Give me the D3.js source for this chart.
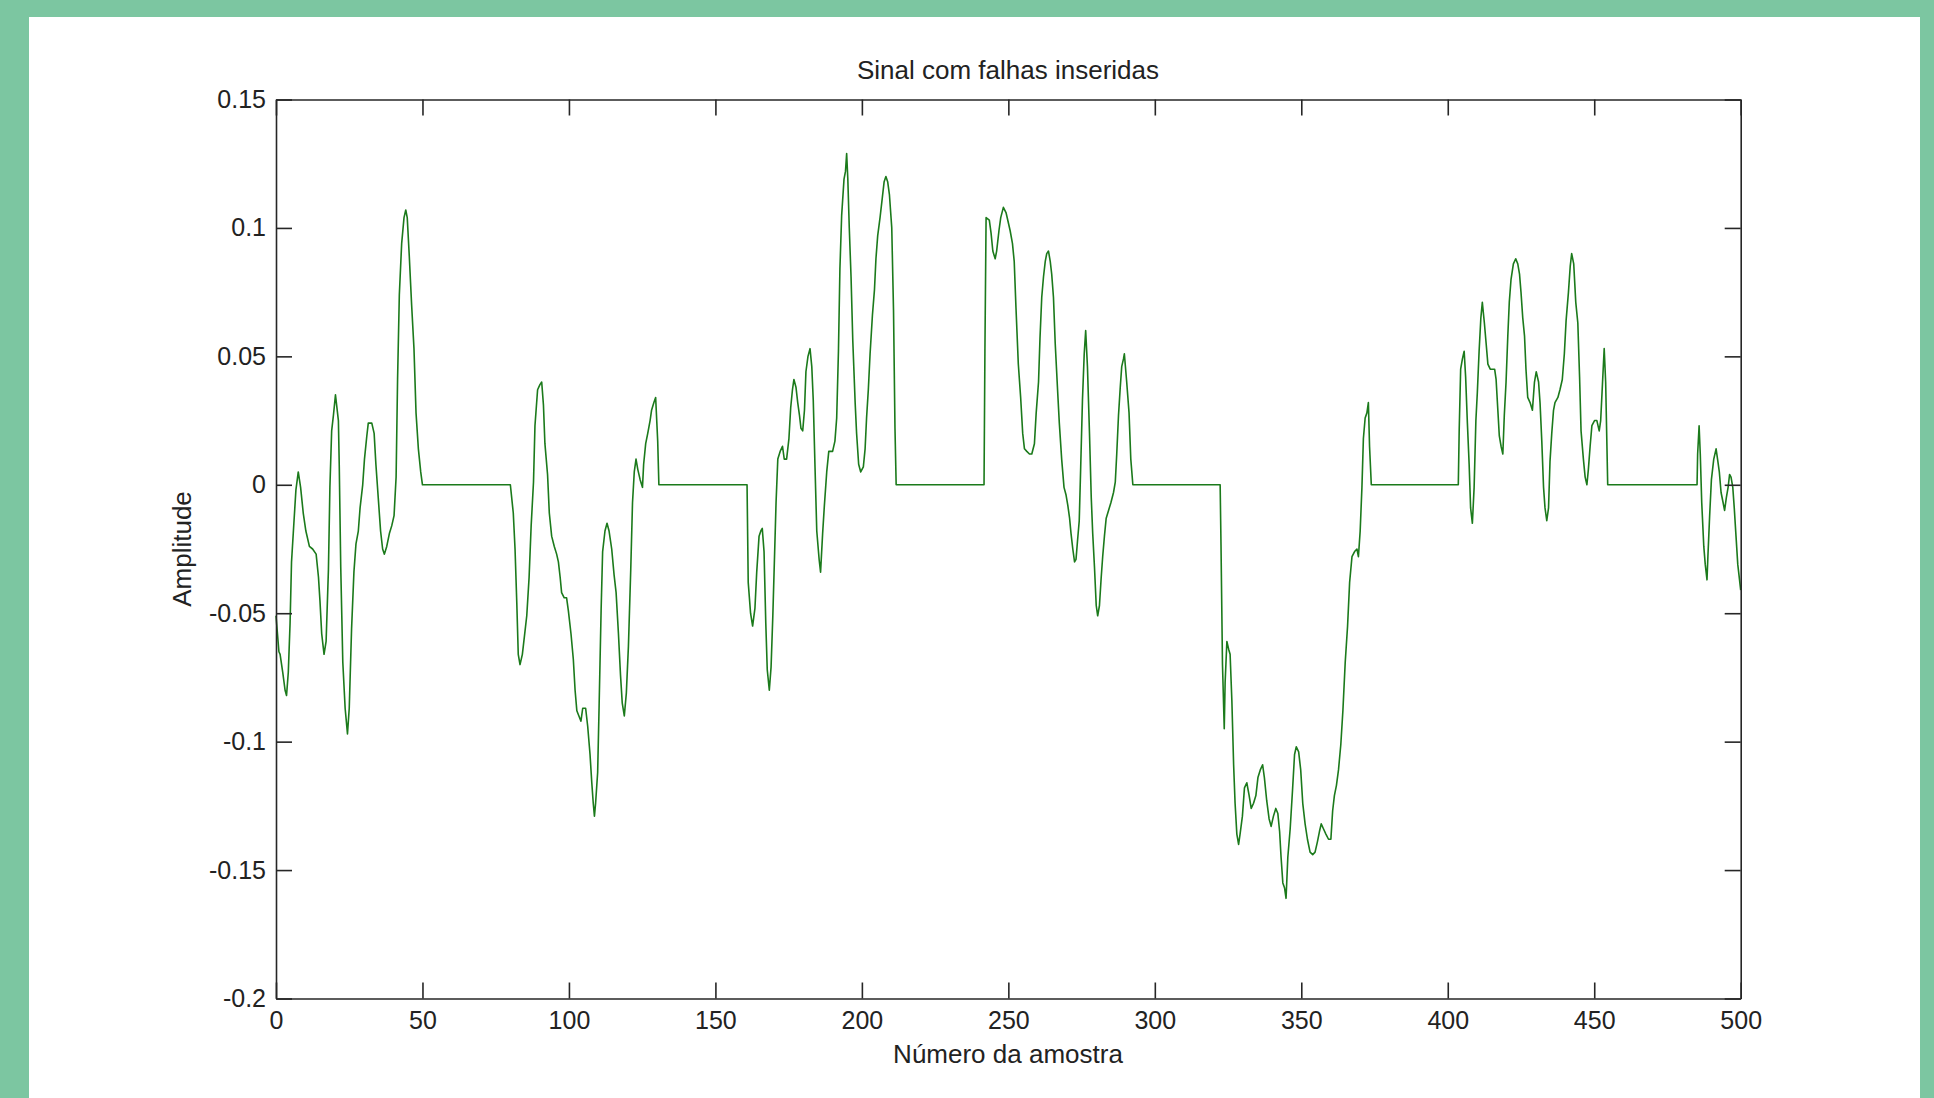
<!DOCTYPE html>
<html>
<head>
<meta charset="utf-8">
<script src="https://cdn.jsdelivr.net/npm/d3@7"></script>
<style>
  body { margin: 0; background: #7cc6a1; }
  svg { display: block; }
</style>
</head>
<body>
<svg width="1934" height="1098"></svg>
<script>
// amostra / amplitude, trecho a trecho (entre as falhas o sinal fica em zero)
var trecho1 = [[0,-0.051],[1,-0.065],[1.4,-0.066],[2.3,-0.073],[3.1,-0.080],[3.6,-0.082],[4.2,-0.073],[4.8,-0.054],[5.3,-0.030],[6.1,-0.015],[6.8,-0.002],[7.6,0.005],[8.4,-0.001],[9.3,-0.011],[10.2,-0.018],[11.4,-0.024],[12.5,-0.025],[13.7,-0.027],[14.5,-0.036],[15,-0.045],[15.6,-0.058],[16.4,-0.066],[17.1,-0.061],[17.9,-0.033],[18.4,-0.001],[19,0.021],[19.6,0.027],[20.3,0.035],[21.3,0.025],[21.6,0.007],[22.1,-0.032],[22.8,-0.069],[23.6,-0.087],[24.4,-0.097],[25,-0.087],[25.8,-0.056],[26.6,-0.034],[27.3,-0.023],[28.1,-0.018],[28.7,-0.009],[29.6,0.000],[30.2,0.010],[31,0.019],[31.5,0.024],[32.7,0.024],[33.5,0.020],[34.1,0.008],[34.9,-0.005],[35.7,-0.018],[36.4,-0.025],[37,-0.027],[37.8,-0.024],[38.7,-0.019],[39.5,-0.016],[40.3,-0.012],[41,0.003],[41.5,0.041],[42.1,0.074],[42.9,0.094],[43.7,0.104],[44.3,0.107],[44.8,0.104],[45.5,0.089],[46.3,0.070],[47.1,0.053],[47.8,0.028],[48.6,0.014],[49.4,0.005],[50,0]];

var trecho2 = [[80,0],[81,-0.011],[81.6,-0.025],[82.2,-0.046],[82.7,-0.066],[83.3,-0.070],[84.1,-0.066],[84.8,-0.059],[85.6,-0.051],[86.4,-0.036],[87.1,-0.016],[87.9,0.001],[88.4,0.023],[89.3,0.037],[90.1,0.039],[90.7,0.040],[91.3,0.031],[91.8,0.016],[92.7,0.004],[93.3,-0.011],[94.1,-0.020],[95,-0.024],[95.8,-0.027],[96.4,-0.030],[97,-0.036],[97.5,-0.042],[98.4,-0.044],[99.2,-0.044],[99.8,-0.049],[100.7,-0.058],[101.5,-0.068],[102.1,-0.080],[102.7,-0.088],[103.4,-0.090],[104.1,-0.092],[104.7,-0.087],[105.7,-0.087],[106.4,-0.094],[107.2,-0.105],[107.8,-0.116],[108.3,-0.124],[108.7,-0.129],[109.1,-0.124],[109.8,-0.112],[110.3,-0.086],[111,-0.048],[111.5,-0.026],[112.3,-0.018],[113,-0.015],[113.7,-0.018],[114.6,-0.025],[115.4,-0.035],[116.1,-0.042],[116.9,-0.058],[117.6,-0.074],[118.2,-0.085],[118.9,-0.090],[119.6,-0.081],[120.3,-0.063],[121.1,-0.033],[121.7,-0.007],[122.3,0.005],[122.9,0.010],[123.5,0.006],[124.3,0.002],[125.1,-0.001],[125.5,0.008],[126.2,0.016],[126.9,0.020],[127.7,0.025],[128.2,0.029],[129,0.032],[129.6,0.034],[130.3,0.017],[130.7,0]];

var trecho3 = [[160.8,0],[161.2,-0.038],[162,-0.050],[162.7,-0.055],[163.5,-0.048],[164.1,-0.034],[164.9,-0.020],[165.5,-0.018],[166,-0.017],[166.6,-0.026],[167.2,-0.054],[167.7,-0.072],[168.4,-0.080],[169,-0.071],[169.6,-0.051],[170.1,-0.031],[170.7,-0.007],[171.3,0.010],[172.1,0.013],[172.9,0.015],[173.5,0.010],[174.3,0.010],[175.1,0.018],[175.7,0.030],[176.3,0.037],[176.8,0.041],[177.5,0.038],[178.1,0.032],[178.7,0.027],[179.2,0.022],[179.8,0.021],[180.4,0.029],[180.9,0.044],[181.6,0.050],[182.3,0.053],[182.9,0.046],[183.4,0.033],[184,0.007],[184.6,-0.018],[185.4,-0.029],[185.9,-0.034],[186.6,-0.019],[187.2,-0.008],[188,0.005],[188.7,0.013],[190,0.013],[190.8,0.017],[191.4,0.026],[192,0.052],[192.5,0.084],[193.1,0.105],[193.9,0.119],[194.4,0.122],[194.8,0.129],[195.2,0.119],[195.7,0.100],[196.3,0.081],[196.9,0.056],[197.7,0.032],[198.2,0.020],[198.9,0.008],[199.6,0.005],[200.5,0.007],[201.1,0.014],[201.6,0.026],[202.2,0.037],[202.8,0.051],[203.6,0.066],[204.3,0.076],[204.8,0.088],[205.4,0.097],[206.2,0.104],[207,0.112],[207.6,0.118],[208.2,0.120],[208.8,0.118],[209.4,0.113],[210.2,0.100],[210.8,0.068],[211.3,0.022],[211.7,0]];

var trecho4 = [[241.7,0],[242,0.052],[242.4,0.104],[243.5,0.103],[244.1,0.098],[244.7,0.091],[245.5,0.088],[246,0.091],[246.8,0.099],[247.4,0.104],[248.3,0.108],[249.2,0.106],[250,0.102],[250.6,0.099],[251.4,0.094],[252,0.087],[252.6,0.069],[253.4,0.047],[254.2,0.034],[254.9,0.020],[255.5,0.014],[256.3,0.013],[257.2,0.012],[258,0.012],[258.9,0.016],[259.5,0.028],[260.3,0.040],[260.8,0.057],[261.4,0.073],[262,0.081],[262.6,0.087],[263.1,0.090],[263.7,0.091],[264.3,0.087],[264.8,0.082],[265.4,0.073],[266,0.055],[266.8,0.037],[267.4,0.024],[268.2,0.010],[269,-0.001],[269.7,-0.004],[270.3,-0.008],[270.9,-0.013],[271.4,-0.019],[272,-0.025],[272.6,-0.030],[273.1,-0.029],[273.6,-0.022],[274.2,-0.014],[274.7,0.007],[275.3,0.033],[275.9,0.051],[276.4,0.060],[277,0.046],[277.7,0.020],[278.3,-0.005],[278.8,-0.019],[279.4,-0.032],[280,-0.047],[280.5,-0.051],[281.1,-0.047],[281.7,-0.036],[282.2,-0.028],[282.8,-0.020],[283.4,-0.013],[284.2,-0.010],[285,-0.007],[285.9,-0.003],[286.5,0.001],[287,0.012],[287.6,0.027],[288.2,0.038],[288.7,0.046],[289.3,0.049],[289.6,0.051],[290.4,0.040],[291.2,0.028],[291.8,0.010],[292.5,0]];

var trecho5 = [[322.3,0],[322.6,-0.024],[323.1,-0.070],[323.7,-0.095],[324,-0.077],[324.6,-0.061],[325.2,-0.064],[325.7,-0.066],[326.3,-0.084],[326.9,-0.109],[327.4,-0.124],[328,-0.136],[328.6,-0.140],[329.1,-0.136],[329.9,-0.129],[330.6,-0.118],[331.4,-0.116],[332.2,-0.121],[332.9,-0.126],[333.7,-0.124],[334.5,-0.121],[335.2,-0.114],[336,-0.111],[336.8,-0.109],[337.4,-0.114],[338.2,-0.123],[339,-0.130],[339.7,-0.133],[340.5,-0.129],[341.3,-0.126],[342,-0.128],[342.6,-0.135],[343.1,-0.145],[343.7,-0.155],[344.3,-0.157],[344.8,-0.161],[345.4,-0.145],[346.2,-0.134],[347,-0.119],[347.7,-0.105],[348.3,-0.102],[349.1,-0.104],[349.8,-0.111],[350.5,-0.124],[351.3,-0.132],[352.1,-0.138],[353,-0.143],[353.9,-0.144],[354.7,-0.143],[355.5,-0.139],[356.2,-0.135],[356.8,-0.132],[357.6,-0.134],[358.4,-0.136],[359.3,-0.138],[360.1,-0.138],[360.7,-0.127],[361.3,-0.121],[362,-0.117],[362.7,-0.111],[363.5,-0.101],[364.2,-0.088],[365,-0.069],[365.8,-0.055],[366.5,-0.038],[367.3,-0.028],[368.2,-0.026],[369,-0.025],[369.5,-0.028],[370.1,-0.018],[370.7,-0.001],[371.2,0.018],[371.8,0.026],[372.4,0.028],[372.9,0.032],[373.3,0.015],[373.9,0]];

var trecho6 = [[403.6,0],[403.9,0.021],[404.4,0.045],[405,0.049],[405.6,0.052],[406.1,0.042],[406.7,0.024],[407.3,0.008],[407.8,-0.009],[408.4,-0.015],[409,-0.001],[409.6,0.025],[410.1,0.036],[410.7,0.052],[411.3,0.065],[411.8,0.071],[412.5,0.063],[413.1,0.055],[413.7,0.047],[414.5,0.045],[416,0.045],[416.5,0.041],[417.1,0.029],[417.6,0.019],[418.2,0.015],[418.8,0.012],[419.3,0.027],[419.9,0.040],[420.5,0.058],[421,0.071],[421.6,0.080],[422.4,0.086],[423.2,0.088],[423.9,0.086],[424.5,0.082],[425,0.075],[425.6,0.065],[426.2,0.058],[426.7,0.045],[427.3,0.034],[428.1,0.032],[428.9,0.029],[429.6,0.040],[430.2,0.044],[431,0.040],[431.5,0.032],[432.1,0.017],[432.7,-0.001],[433.2,-0.009],[433.8,-0.014],[434.4,-0.009],[434.9,0.009],[435.5,0.020],[436.1,0.029],[436.6,0.032],[437.6,0.034],[438.3,0.037],[439.1,0.041],[439.8,0.051],[440.4,0.064],[441.2,0.075],[441.8,0.085],[442.3,0.090],[443,0.086],[443.7,0.071],[444.4,0.063],[445,0.042],[445.5,0.021],[446.3,0.010],[446.9,0.003],[447.5,0.000],[448,0.006],[448.6,0.015],[449.2,0.023],[450.1,0.025],[450.9,0.025],[451.7,0.021],[452.2,0.025],[452.8,0.039],[453.4,0.053],[453.9,0.040],[454.6,0]];

var trecho7 = [[485.1,0],[485.3,0.012],[485.8,0.023],[486.2,0.012],[486.7,-0.007],[487.4,-0.024],[487.9,-0.031],[488.5,-0.037],[488.8,-0.028],[489.4,-0.012],[490,0.002],[490.8,0.010],[491.6,0.014],[492.1,0.010],[492.7,0.005],[493.3,-0.003],[494,-0.007],[494.5,-0.010],[495.1,-0.005],[495.7,-0.001],[496.2,0.004],[496.7,0.003],[497.3,-0.001],[497.8,-0.009],[498.4,-0.020],[499,-0.031],[500,-0.041]];

var xTicks = [0,50,100,150,200,250,300,350,400,450,500];
var yTicks = [-0.2,-0.15,-0.1,-0.05,0,0.05,0.1,0.15];
var yTickLabels = ["-0.2","-0.15","-0.1","-0.05","0","0.05","0.1","0.15"];

var sinal = [].concat(trecho1, trecho2, trecho3, trecho4, trecho5, trecho6, trecho7);

var fonte = "'Liberation Sans', Arial, sans-serif";
var corEixo = "#262626";

svg = d3.select("svg");

// painel branco da figura
svg.append("rect")
  .attr("x", 29).attr("y", 17)
  .attr("width", 1891).attr("height", 1100)
  .attr("fill", "#ffffff");

var x = d3.scaleLinear().domain([0, 500]).range([276, 1740.7]);
var y = d3.scaleLinear().domain([-0.2, 0.15]).range([998.5, 99.5]);

var linha = d3.line()
  .x(function(d) { return x(d[0]); })
  .y(function(d) { return y(d[1]); });

svg.append("path")
  .datum(sinal)
  .attr("d", linha)
  .attr("fill", "none")
  .attr("stroke", "#1b7a1b")
  .attr("stroke-width", 1.6)
  .attr("stroke-linejoin", "round");

var eixoX = svg.append("g")
  .attr("transform", "translate(0,998.5)")
  .call(d3.axisBottom(x).tickValues(xTicks).tickFormat(d3.format("d"))
    .tickSize(-16).tickSizeOuter(0).tickPadding(13));

var eixoY = svg.append("g")
  .attr("transform", "translate(276,0)")
  .call(d3.axisLeft(y).tickValues(yTicks)
    .tickFormat(function(d, i) { return yTickLabels[i]; })
    .tickSize(-16).tickSizeOuter(0).tickPadding(10));

var eixoTopo = svg.append("g")
  .attr("transform", "translate(0,99.5)")
  .call(d3.axisTop(x).tickValues(xTicks).tickFormat("").tickSize(-16).tickSizeOuter(0));

var eixoDir = svg.append("g")
  .attr("transform", "translate(1740.7,0)")
  .call(d3.axisRight(y).tickValues(yTicks).tickFormat("").tickSize(-16).tickSizeOuter(0));

svg.selectAll(".domain, .tick line")
  .attr("stroke", corEixo)
  .attr("stroke-width", 1.6);

svg.selectAll(".tick text")
  .attr("font-family", fonte)
  .attr("font-size", 25)
  .attr("fill", "#222");

svg.append("text")
  .attr("text-anchor", "middle")
  .attr("x", 1008).attr("y", 79)
  .attr("font-family", fonte).attr("font-size", 26).attr("fill", "#222")
  .text("Sinal com falhas inseridas");

svg.append("text")
  .attr("text-anchor", "middle")
  .attr("x", 1008).attr("y", 1063)
  .attr("font-family", fonte).attr("font-size", 26).attr("fill", "#222")
  .text("Número da amostra");

svg.append("text")
  .attr("text-anchor", "middle")
  .attr("transform", "translate(191,549) rotate(-90)")
  .attr("font-family", fonte).attr("font-size", 26).attr("fill", "#222")
  .text("Amplitude");
</script>
</body>
</html>
